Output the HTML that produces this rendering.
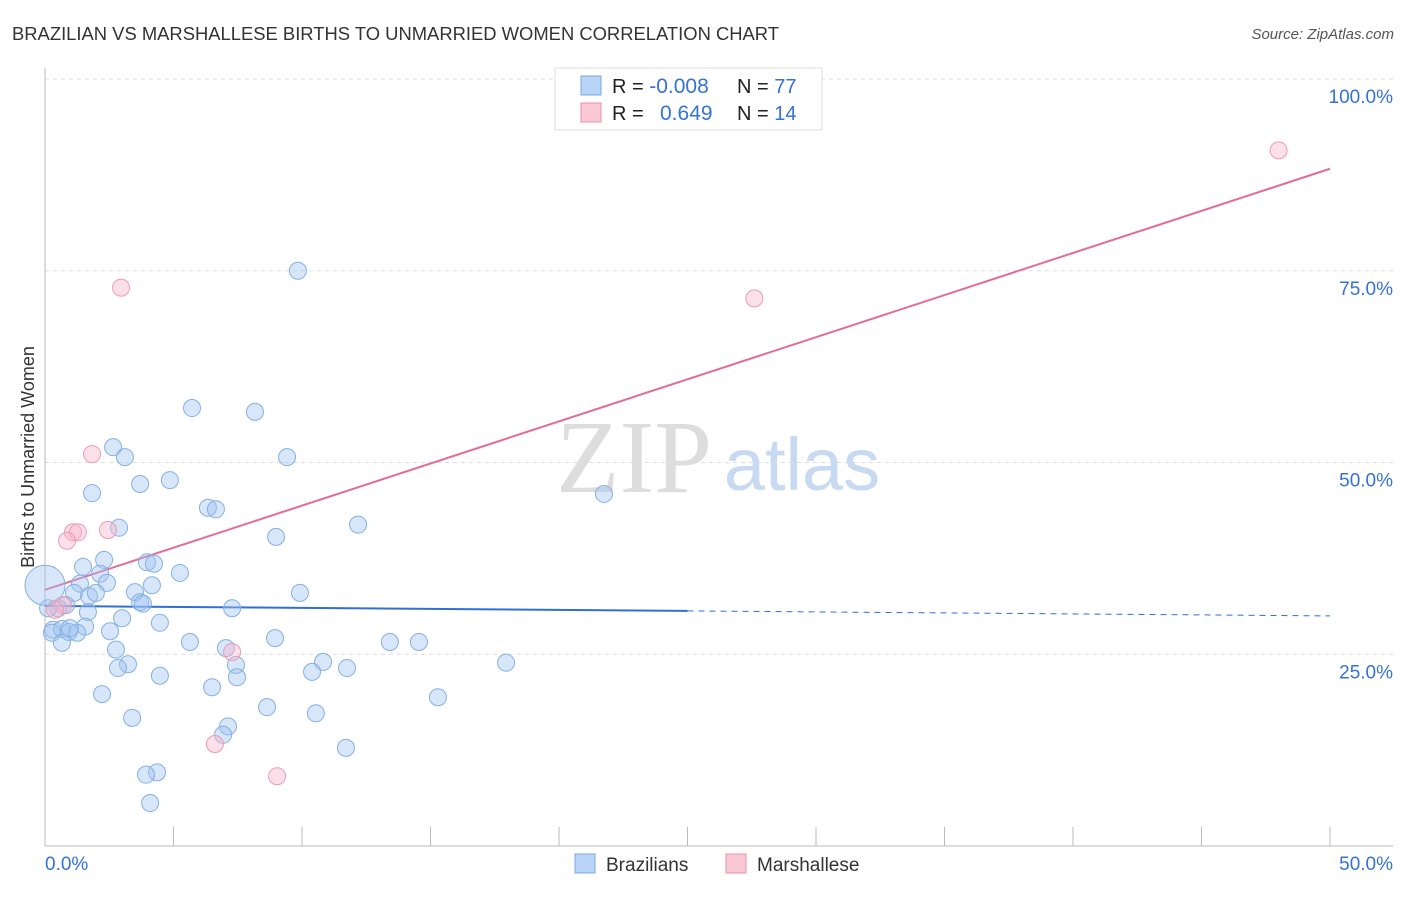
<!DOCTYPE html>
<html><head><meta charset="utf-8"><style>
body{margin:0;background:#fff;font-family:"Liberation Sans",sans-serif;}
</style></head><body>
<svg id="chart" width="1406" height="892" xmlns="http://www.w3.org/2000/svg" font-family="Liberation Sans, sans-serif">
<text x="12" y="40" font-size="18" fill="#333" textLength="767" lengthAdjust="spacingAndGlyphs">BRAZILIAN VS MARSHALLESE BIRTHS TO UNMARRIED WOMEN CORRELATION CHART</text>
<text x="1394" y="39" font-size="15" fill="#555" font-style="italic" text-anchor="end">Source: ZipAtlas.com</text>
<text x="634" y="492" font-size="104" fill="#ddd" font-family="Liberation Serif, serif" text-anchor="middle">ZIP</text>
<text x="802" y="490" font-size="74" fill="#c8daf2" text-anchor="middle">atlas</text>
<g id="grid"></g>
<g id="axes"></g>
<g id="lines"></g>
<g id="points"></g>
<text transform="translate(34,457) rotate(-90)" font-size="18" fill="#333" text-anchor="middle">Births to Unmarried Women</text>
<g>
<rect x="555" y="68" width="267" height="62" fill="#fff" stroke="#ddd"/>
<rect x="581" y="76" width="20" height="19" fill="#b8d4f6" stroke="#7aa8e0"/>
<rect x="581" y="103" width="20" height="19" fill="#fbc8d8" stroke="#e890ad"/>
<text x="612" y="93" font-size="20" fill="#222">R = <tspan fill="#3572d4" font-size="21">-0.008</tspan></text>
<text x="737" y="93" font-size="20" fill="#222">N = <tspan fill="#3572d4">77</tspan></text>
<text x="612" y="120" font-size="20" fill="#222">R = </text>
<text x="660" y="120" font-size="21" fill="#3572d4">0.649</text>
<text x="737" y="120" font-size="20" fill="#222">N = <tspan fill="#3572d4">14</tspan></text>
</g>
<g>
<rect x="575" y="854" width="20" height="19" fill="#b8d4f6" stroke="#7aa8e0"/>
<text x="606" y="871" font-size="19" fill="#333">Brazilians</text>
<rect x="726" y="854" width="20" height="19" fill="#fbc8d8" stroke="#e890ad"/>
<text x="757" y="871" font-size="19" fill="#333">Marshallese</text>
</g>
</svg>
<script>
const blueX=[9.84,5.72,8.17,2.65,3.11,9.42,1.83,3.70,4.86,6.34,6.65,21.75,2.88,12.18,8.99,2.30,3.97,4.24,1.48,5.25,2.14,1.36,2.41,4.16,1.13,1.71,1.98,3.50,9.92,3.70,3.81,0.82,0.51,7.28,1.67,3.00,4.47,1.56,0.31,0.66,0.93,1.25,2.53,0.27,8.95,5.64,13.42,14.55,0.66,2.76,7.04,10.82,3.23,7.43,2.84,11.75,10.39,7.47,4.47,17.94,6.50,2.22,15.29,8.64,10.54,3.39,7.12,6.93,11.71,4.36,3.93,4.09,0.12,0.97,0];
const blueY=[75.0,57.1,56.6,52.0,50.7,50.7,46.0,47.2,47.7,44.1,43.9,45.9,41.5,41.9,40.3,37.3,37.0,36.8,36.4,35.6,35.5,34.2,34.3,34.0,33.0,32.6,33.0,33.1,33.0,31.8,31.6,31.4,31.0,31.0,30.5,29.7,29.1,28.6,28.2,28.3,27.9,27.8,28.0,27.8,27.1,26.6,26.6,26.6,26.5,25.6,25.8,24.0,23.7,23.6,23.2,23.2,22.7,22.0,22.2,23.9,20.7,19.8,19.4,18.1,17.3,16.7,15.6,14.5,12.8,9.6,9.3,5.6,31.0,28.4,34.0];
const pinkX=[48.0,2.96,27.6,1.83,1.09,1.28,2.45,0.86,0.70,7.28,6.61,9.03,0.39];
const pinkY=[90.7,72.8,71.4,51.1,40.9,40.9,41.2,39.8,31.4,25.3,13.3,9.1,30.8];
const blueTrend=[31.3,30.0];
const pinkTrend=[33.4,88.3];
const yTicks=[25,50,75,100];
const xTickLabels=["0.0%","50.0%"];
const NS="http://www.w3.org/2000/svg";
const sx=v=>45+v*25.7, sy=v=>846-v*7.67;
function mk(p,t,a){const e=document.createElementNS(NS,t);for(const k in a)e.setAttribute(k,a[k]);document.getElementById(p).appendChild(e);return e;}
yTicks.forEach(t=>{
 const l=mk('grid','line',{x1:45,x2:1393,y1:sy(t),y2:sy(t),stroke:'#ddd','stroke-dasharray':'4,4'});
 
 
 const tx=mk('grid','text',{x:1393,y:sy(t)+24,'font-size':19,fill:'#3572d4','text-anchor':'end'});
 tx.textContent=t.toFixed(1)+'%';
 
 
});
mk('axes','line',{x1:45,x2:45,y1:68,y2:846,stroke:'#bbb'});
mk('axes','line',{x1:45,x2:1393,y1:846,y2:846,stroke:'#bbb'});
for(let i=0;i<=10;i++){const l=mk('axes','line',{x1:sx(i*5),x2:sx(i*5),y1:827,y2:846,stroke:'#bbb'});
 
 }
const xl0=mk('axes','text',{x:45,y:870,'font-size':19,fill:'#3572d4'});xl0.textContent=xTickLabels[0];


const xl1=mk('axes','text',{x:1393,y:870,'font-size':19,fill:'#3572d4','text-anchor':'end'});xl1.textContent=xTickLabels[1];


function bt(x){return blueTrend[0]+(blueTrend[1]-blueTrend[0])*x/50;}
const b1=mk('lines','line',{x1:sx(0),y1:sy(bt(0)),x2:sx(25),y2:sy(bt(25)),stroke:'#2f6fd6','stroke-width':2});


const b2=mk('lines','line',{x1:sx(25),y1:sy(bt(25)),x2:sx(50),y2:sy(bt(50)),stroke:'#2f6fd6','stroke-width':1,'stroke-dasharray':'6,5'});


const p1=mk('lines','line',{x1:sx(0),y1:sy(pinkTrend[0]),x2:sx(50),y2:sy(pinkTrend[1]),stroke:'#e46b97','stroke-width':2});


blueX.forEach((x,i)=>{const c=mk('points','circle',{cx:sx(x),cy:sy(blueY[i]),r:i==blueX.length-1?20:8.5,fill:'rgba(160,196,240,0.42)',stroke:'#85b0e4','stroke-width':1});
 
 });
pinkX.forEach((x,i)=>{const c=mk('points','circle',{cx:sx(x),cy:sy(pinkY[i]),r:8.5,fill:'rgba(248,180,202,0.42)',stroke:'#eb9bb6','stroke-width':1});
 
 });
</script>
</body></html>
